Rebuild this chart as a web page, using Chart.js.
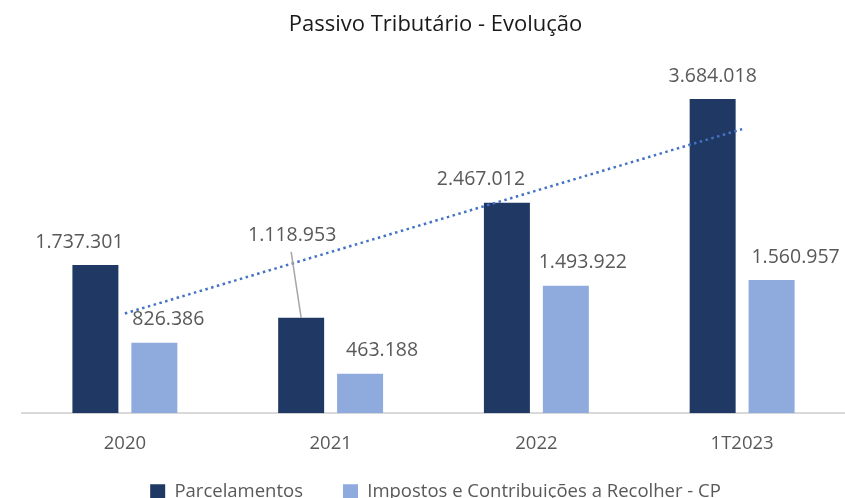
<!DOCTYPE html>
<html>
<head>
<meta charset="utf-8">
<script src="https://cdn.jsdelivr.net/npm/chart.js@4.4.1/dist/chart.umd.min.js"></script>
<style>
  html, body { margin: 0; padding: 0; background: #fff; overflow: hidden; }
</style>
</head>
<body>
<canvas id="myChart" width="845" height="542"></canvas>
<script>
// chart data
var categorias = ["2020", "2021", "2022", "1T2023"];
var parcelamentos = [1737301, 1118953, 2467012, 3684018];
var impostosCP = [826386, 463188, 1493922, 1560957];
var tendencia = [1170000, null, null, 3330000];

function fmt(v) {
    return String(v).replace(/\B(?=(\d{3})+(?!\d))/g, ".");
}

var rotulos = {
    id: "rotulos",
    afterLayout: function(chart) {
        // sobe a legenda (encosta no eixo x)
        chart.legend.top -= 31;
        chart.legend.bottom -= 31;
    },
    afterDatasetsDraw: function(chart, args, opts) {
        var ctx = chart.ctx;
        ctx.save();
        ctx.font = "19.5px 'Open Sans'";
        ctx.fillStyle = "#595959";
        ctx.textAlign = "center";
        ctx.textBaseline = "middle";
        [0, 1].forEach(function(d) {
            var meta = chart.getDatasetMeta(d);
            var vals = chart.data.datasets[d].data;
            meta.data.forEach(function(bar, i) {
                var dx = opts.dx[d][i];
                var dy = opts.dy[d][i];
                var x = bar.x + dx;
                var y = bar.y - 23 + dy;
                if (dy !== 0) {
                    ctx.strokeStyle = "#A6A6A6";
                    ctx.lineWidth = 1.5;
                    ctx.beginPath();
                    ctx.moveTo(x - 1, y + 16);
                    ctx.lineTo(bar.x, bar.y);
                    ctx.stroke();
                }
                ctx.fillText(fmt(vals[i]), x, y);
            });
        });
        ctx.restore();
    }
};

var ctx = document.getElementById("myChart");

var grafico = new Chart(ctx, {
    type: "bar",
    data: {
        labels: categorias,
        datasets: [
            {
                label: "Parcelamentos",
                data: parcelamentos,
                backgroundColor: "#203864",
                categoryPercentage: 0.573,
                barPercentage: 0.78,
                order: 1
            },
            {
                label: "Impostos e Contribuições a Recolher - CP",
                data: impostosCP,
                backgroundColor: "#8FAADC",
                categoryPercentage: 0.573,
                barPercentage: 0.78,
                order: 1
            },
            {
                type: "line",
                label: "Linear (Parcelamentos)",
                data: tendencia,
                spanGaps: true,
                borderColor: "#4472C4",
                borderWidth: 2.5,
                borderDash: [2.5, 3.5],
                pointRadius: 0,
                fill: false,
                order: 0
            }
        ]
    },
    options: {
        responsive: false,
        animation: false,
        devicePixelRatio: 1,
        layout: { padding: { left: 22, right: -4, top: 0, bottom: 0 } },
        plugins: {
            title: {
                display: true,
                text: "Passivo Tributário - Evolução",
                color: "#1a1a1a",
                font: { family: "'Open Sans'", size: 22, weight: "normal" },
                padding: { top: 12, bottom: 33.6 }
            },
            legend: {
                position: "bottom",
                labels: {
                    filter: function(item) { return item.datasetIndex < 2; },
                    boxWidth: 15,
                    boxHeight: 15,
                    padding: 40,
                    color: "#595959",
                    font: { family: "'Open Sans'", size: 18.5 }
                }
            },
            tooltip: { enabled: false },
            rotulos: {
                dx: [[-16, -9, -26, 0], [14, 22, 17, 24]],
                dy: [[0, -59, 0, 0], [0, 0, 0, 0]]
            }
        },
        scales: {
            x: {
                grid: { display: false, drawTicks: false },
                border: { display: true, color: "#D9D9D9", width: 2 },
                ticks: {
                    padding: 19,
                    color: "#595959",
                    font: { family: "'Open Sans'", size: 18.5 }
                }
            },
            y: {
                display: false,
                min: 0,
                max: 4000000
            }
        }
    },
    plugins: [rotulos]
});
</script>
</body>
</html>
